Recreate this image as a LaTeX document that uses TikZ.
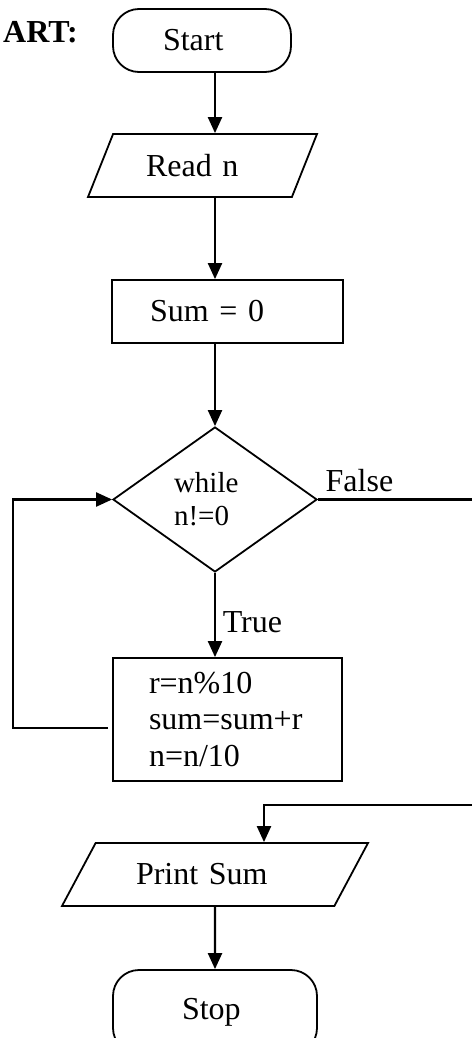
\documentclass[tikz,border=0pt]{standalone}
\usepackage{fontspec}
\setmainfont{Liberation Serif}
\usetikzlibrary{calc, shapes.geometric, arrows.meta}

\tikzset{
    every node/.style={font=\fontsize{16}{18.3}\selectfont},
    term/.style={draw, line width=0.9pt, rounded corners=13pt, minimum height=31.5pt, align=left},
    io/.style={draw, line width=0.9pt, trapezium, trapezium stretches body, minimum height=31.5pt, align=left},
    proc/.style={draw, line width=0.9pt, rectangle, align=left},
    cond/.style={draw, line width=0.9pt, diamond, inner sep=0pt, align=left, font=\fontsize{14.5}{16.5}\selectfont}
}

\begin{document}
\begin{tikzpicture}[x=0.5pt, y=-0.5pt, line width=1.1pt, >={Triangle[length=8pt, width=7pt]}]
        \useasboundingbox (0,0) rectangle (471,1038);

        \node[anchor=base east, inner sep=0pt, font=\fontsize{16}{18.3}\selectfont\bfseries] (title) at (79,43) {ART:};

        \node[term, minimum width=89pt, text width=39pt] (start) at (202,40.5) {Start};
        \node[io, trapezium left angle=55, trapezium right angle=125, minimum width=114.5pt, text width=56.5pt] (read) at (202.5,165.5) {Read n};
        \node[proc, minimum width=115.5pt, minimum height=31.5pt, text width=77.5pt] (sum) at (227.5,311.5) {Sum = 0};
        \node[cond, minimum width=102pt, minimum height=72.5pt, text width=41pt] (loop) at (215,499.5) {while\\n!=0};
        \node[proc, minimum width=114.5pt, minimum height=61.5pt, text width=78.5pt] (body) at (227.5,719.5) {r=n\%10\\sum=sum+r\\n=n/10};
        \node[io, trapezium left angle=46, trapezium right angle=134, minimum width=153pt, text width=79pt] (print) at (215,874.5) {Print Sum};
        \node[term, minimum width=102pt, minimum height=42pt, text width=33pt] (stop) at (215,1012) {Stop};

        \coordinate (back) at (108,728);
        \coordinate (turn) at (264,805);

        \draw[->] (start.south -| loop.north) -- (read.north -| loop.north);
        \draw[->] (read.south -| loop.north) -- (sum.north -| loop.north);
        \draw[->] (sum.south -| loop.north) -- (loop.north);
        \draw[->] (loop.south) -- node[right, pos=.59] {True} (body.north -| loop.south);
        \draw[->] (back) -- ++(-95,0) |- (loop.west);
        \draw[->] (loop.east) -- node[pos=0, above right] {False} ++(165,0) |- (turn) -- (print.north -| turn);
        \draw[->] (print.south) -- (stop.north);
\end{tikzpicture}
\end{document}
